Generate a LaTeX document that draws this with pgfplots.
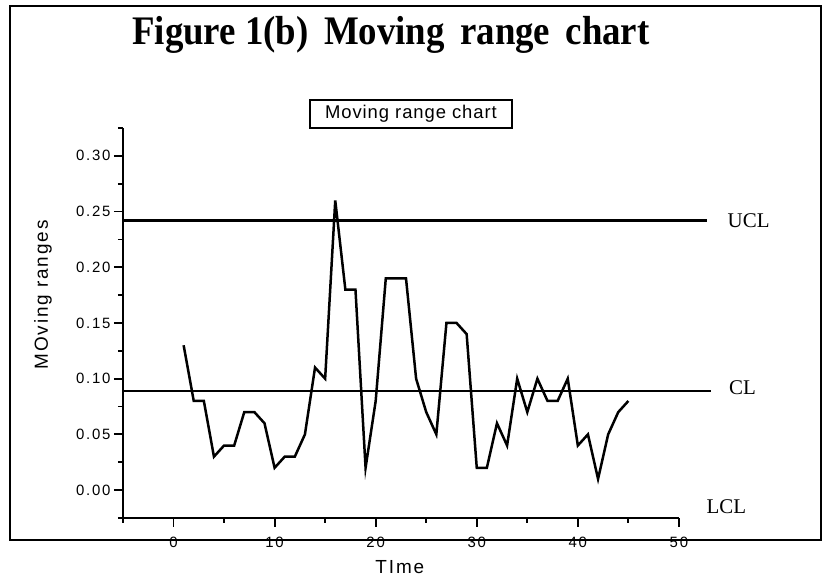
\documentclass[border=0pt]{standalone}
\usepackage{fontspec}
\setmainfont{Liberation Serif}
\newfontfamily\tickfont[LetterSpace=12]{Liberation Sans}
\newfontfamily\labfont[LetterSpace=10]{Liberation Sans}
\newfontfamily\boxfont[LetterSpace=5]{Liberation Sans}
\usepackage{pgfplots}
\pgfplotsset{compat=1.18}
\pgfplotstableread{
x y
1 0.13
2 0.08
3 0.08
4 0.03
5 0.04
6 0.04
7 0.07
8 0.07
9 0.06
10 0.02
11 0.03
12 0.03
13 0.05
14 0.11
15 0.10
16 0.26
17 0.18
18 0.18
19 0.02
20 0.08
21 0.19
22 0.19
23 0.19
24 0.10
25 0.07
26 0.05
27 0.15
28 0.15
29 0.14
30 0.02
31 0.02
32 0.06
33 0.04
34 0.10
35 0.07
36 0.10
37 0.08
38 0.08
39 0.10
40 0.04
41 0.05
42 0.01
43 0.05
44 0.07
45 0.08
}\mrdata
\begin{document}
\begin{tikzpicture}
\path (0,0) rectangle (822bp,-578bp);
\draw[line width=2.2bp] (10bp,-6bp) rectangle (821bp,-540bp);
\node[anchor=base, font=\bfseries\fontsize{37}{40}\selectfont, yscale=1.1] at (391bp,-45bp) {Figure 1(b)\, Moving\, range\, chart};
\node[draw, line width=1.6bp, font=\boxfont\fontsize{18.5}{20}\selectfont, minimum width=202bp, minimum height=28bp, inner sep=2bp] at (411bp,-114bp) {Moving range chart};
\begin{axis}[
  at={(123bp,-518bp)}, anchor=south west,
  scale only axis, width=556bp, height=390bp,
  xmin=-5, xmax=50, ymin=-0.025, ymax=0.325,
  axis lines=left, axis line style={-, line width=2.5bp},
  clip=false,
  xtick={0,10,20,30,40,50},
  minor xtick={-5,5,15,25,35,45},
  ytick={0,0.05,0.10,0.15,0.20,0.25,0.30},
  minor ytick={-0.025,0.025,0.075,0.125,0.175,0.225,0.275,0.325},
  tick align=outside,
  major tick length=9bp, minor tick length=5bp,
  tick style={line width=1.8bp, black},
  yticklabel style={font=\tickfont\fontsize{15}{17}\selectfont, /pgf/number format/.cd, fixed, fixed zerofill, precision=2, assume math mode=true},
  xticklabel style={font=\tickfont\fontsize{15}{17}\selectfont, yshift=-7bp, /pgf/number format/assume math mode=true},
  xlabel={TIme}, ylabel={MOving ranges},
  xlabel style={font=\labfont\fontsize{19}{21}\selectfont, at={(axis description cs:0.498,-0.126)}, anchor=center},
  ylabel style={font=\labfont\fontsize{19}{21}\selectfont, at={(axis description cs:-0.144,0.572)}, anchor=center},
]
\addplot[line width=2.5bp, black, no markers] table[x=x, y=y] {\mrdata};
\addplot[line width=2.5bp, black, no markers] coordinates {(-5,0.242) (52.8,0.242)};
\addplot[line width=2.5bp, black, no markers] coordinates {(-5,0.089) (53.2,0.089)};
\node[font=\fontsize{21}{24}\selectfont] at (axis cs:56.9,0.2414) {UCL};
\node[font=\fontsize{21}{24}\selectfont] at (axis cs:56.3,0.092) {CL};
\node[font=\fontsize{21}{24}\selectfont] at (axis cs:54.7,-0.0153) {LCL};
\end{axis}
\end{tikzpicture}
\end{document}
